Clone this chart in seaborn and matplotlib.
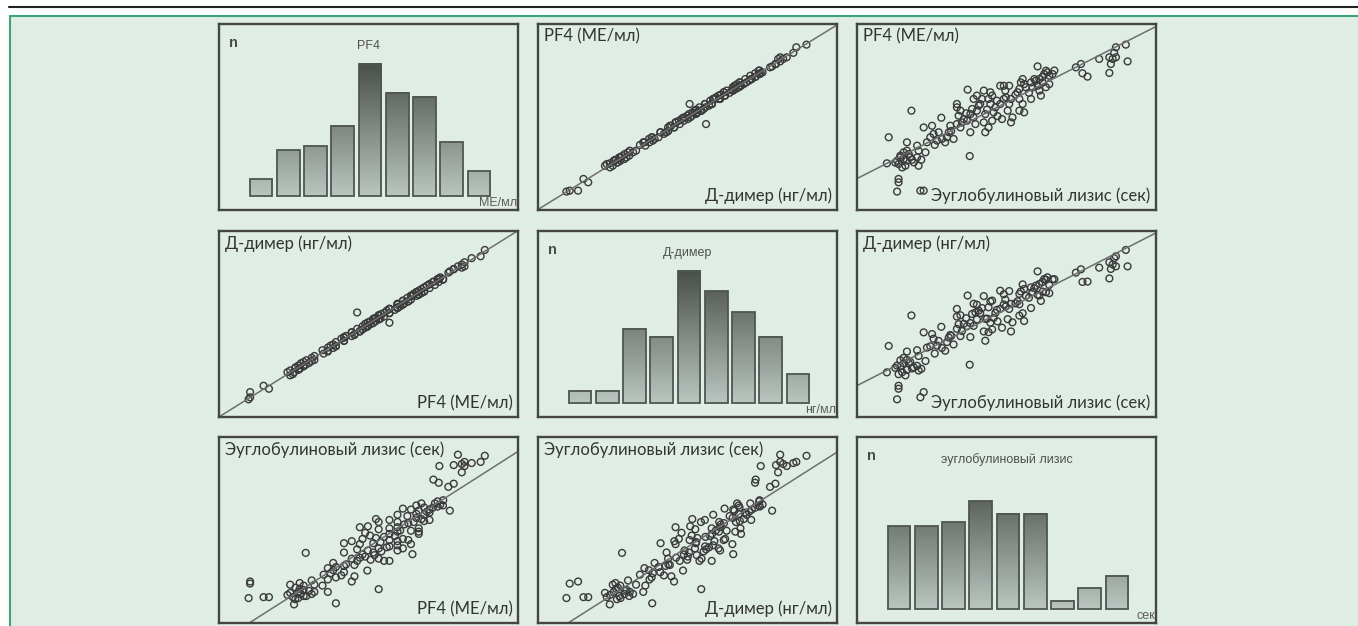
import numpy as np
import pandas as pd
import seaborn as sns
import matplotlib.pyplot as plt
from matplotlib.patches import Rectangle
from matplotlib.lines import Line2D
from matplotlib.colors import LinearSegmentedColormap

# histogram bar heights (patients per bin), 9 bins each
pf4_counts = [4, 11, 12, 17, 32, 25, 24, 13, 6]
ddimer_counts = [3, 3, 18, 16, 32, 27, 22, 16, 7]
eug_counts = [20, 20, 21, 26, 23, 23, 2, 5, 8]

# per-patient values, each scaled to 0-100 of its own axis range
eug = [10.6, 18.2, 10.0, 13.9, 13.9, 13.4, 21.2, 22.3, 37.7, 37.0, 28.2,
       13.4, 14.5, 15.6, 16.7, 13.9, 15.1, 16.2, 17.8, 17.3, 14.5, 15.6, 16.7, 18.4, 12.8,
       16.7, 20.1, 20.6, 20.1, 20.6, 22.9, 23.4, 24.5, 25.6, 25.1, 22.3,
       27.3, 26.8, 28.4, 30.1, 29.5, 30.7, 32.3, 31.2, 33.4, 34.6,
       33.4, 34.6, 34.0, 35.7, 35.1, 36.8, 33.4, 37.9, 38.5, 39.0, 37.9, 39.6,
       40.1, 40.7, 41.8, 42.9, 42.4, 39.0, 40.1, 42.9, 44.0, 45.2, 45.7, 44.6,
       44.0, 45.2, 44.6, 46.3, 46.8, 47.9, 48.5, 49.1, 49.6, 47.9, 49.1, 42.4, 41.2,
       50.9, 49.8, 50.9, 51.5, 50.4, 52.0, 51.5, 54.3, 54.8, 55.4, 55.9, 53.7,
       54.3, 55.4, 54.3, 55.9, 56.5, 58.2, 58.7, 59.3, 59.8, 61.0, 60.4, 61.0,
       62.1, 62.6, 63.2, 63.7, 64.3, 65.4, 63.2, 64.3, 61.5, 58.2, 60.4,
       73.2, 74.9, 75.4, 77.1, 81.0, 84.4, 85.5, 86.6, 89.9, 84.9, 86.6, 84.4, 90.5,
       19.0, 21.5, 26.0, 31.5, 36.5, 43.5, 47.0, 53.0, 57.5, 62.0, 66.0, 86.0]
pf4 = [39.1, 53.4, 25.1, 16.7, 14.9, 9.9, 10.4, 10.4, 29.0, 64.7, 49.6,
       26.5, 28.3, 27.4, 26.5, 24.7, 22.9, 23.8, 28.3, 30.1, 29.2, 31.0, 31.9, 27.0, 25.5,
       36.4, 34.6, 31.9, 28.3, 23.8, 31.0, 36.4, 39.1, 40.9, 45.3, 44.4,
       41.8, 37.3, 38.2, 39.1, 36.4, 41.8, 38.2, 45.3, 46.2, 44.4,
       55.2, 53.4, 50.7, 48.9, 47.1, 48.0, 57.0, 51.6, 54.3, 49.8, 41.8, 46.2,
       53.4, 56.1, 59.7, 51.6, 47.1, 59.7, 61.5, 41.8, 44.4, 48.0, 52.5, 57.0,
       59.7, 61.5, 63.3, 55.2, 58.8, 57.0, 48.9, 59.7, 64.2, 66.8, 66.8, 64.2, 57.0,
       66.8, 60.6, 57.0, 59.7, 53.4, 49.8, 47.1, 65.1, 68.6, 70.4, 67.7, 63.3,
       59.7, 57.0, 53.4, 52.5, 66.0, 68.6, 66.0, 70.4, 69.5, 70.4, 66.8, 64.2,
       68.6, 73.1, 74.9, 74.0, 72.2, 73.1, 66.0, 67.7, 61.5, 59.7, 77.2,
       76.7, 78.5, 73.5, 71.7, 81.2, 82.1, 81.2, 87.5, 88.9, 78.5, 82.1, 73.7, 79.9,
       25.6, 27.0, 35.0, 42.5, 52.0, 54.0, 50.5, 62.0, 63.0, 71.5, 75.0, 84.5]
ddimer = [38.2, 54.6, 24.0, 15.2, 16.8, 9.5, 10.6, 13.4, 28.1, 65.3, 48.5,
          27.6, 27.2, 28.9, 25.3, 23.0, 24.1, 22.4, 29.6, 29.0, 30.5, 31.8, 30.7, 26.1, 26.4,
          35.2, 35.9, 32.8, 27.5, 25.0, 30.1, 37.3, 38.0, 42.1, 44.6, 45.5,
          40.9, 38.4, 37.1, 40.3, 35.6, 42.7, 39.0, 44.1, 47.4, 43.5,
          54.0, 54.7, 49.9, 50.1, 46.2, 48.8, 58.1, 50.5, 55.4, 49.0, 43.0, 56.2,
          52.5, 57.2, 58.6, 52.8, 46.0, 60.9, 60.4, 41.0, 45.6, 47.1, 53.3, 50.7,
          59.0, 62.6, 62.1, 56.0, 57.6, 58.2, 48.0, 60.5, 63.1, 67.9, 66.0, 65.0, 55.9,
          67.7, 59.5, 58.1, 60.8, 52.6, 50.9, 46.0, 66.2, 67.5, 71.3, 68.8, 62.2,
          60.6, 55.8, 54.5, 51.6, 65.1, 69.7, 67.2, 69.3, 70.6, 71.5, 65.7, 65.3,
          67.4, 74.2, 73.8, 75.1, 71.0, 74.0, 67.1, 66.6, 62.4, 58.6, 78.3,
          77.6, 79.4, 72.6, 72.8, 80.3, 83.2, 82.0, 86.4, 89.8, 79.6, 81.0, 74.5, 81.0,
          26.7, 25.9, 34.1, 43.6, 53.1, 52.9, 51.4, 61.1, 64.1, 72.6, 74.1, 85.4]

labels = {"pf4": "PF4 (МЕ/мл)", "ddimer": "Д-димер (нг/мл)",
          "eug": "Эуглобулиновый лизис (сек)"}
hist_titles = {"pf4": "PF4", "ddimer": "Д-димер", "eug": "эуглобулиновый лизис"}
hist_units = {"pf4": "МЕ/мл", "ddimer": "нг/мл", "eug": "сек"}
hist_counts = {"pf4": pf4_counts, "ddimer": ddimer_counts, "eug": eug_counts}
order = ["pf4", "ddimer", "eug"]

df = pd.DataFrame({"pf4": pf4, "ddimer": ddimer, "eug": eug})

sns.set_theme(style="white")
plt.rcParams["font.family"] = ["Lato", "DejaVu Sans"]

BG = "#e0ede5"
W, H = 1358, 626
fig = plt.figure(figsize=(W / 100, H / 100), dpi=100, facecolor="white")

# page decoration: rule on top, green framed box
fig.add_artist(Line2D([9 / W, 1], [1 - 7 / H, 1 - 7 / H], color="#222222", lw=1.5))
fig.add_artist(Rectangle((10 / W, -0.01), 1.0, 1 - 16 / H + 0.01, facecolor=BG,
                         edgecolor="#3aa57a", lw=1.5, zorder=0))

col_x = [219, 538, 857]
row_y = [24, 231, 437]
pw, ph = 299, 186

cmap = LinearSegmentedColormap.from_list("bars", ["#bac5bf", "#495049"])
vmax_count = 32

for r, yv in enumerate(order):
    for c, xv in enumerate(order):
        ax = fig.add_axes([col_x[c] / W, 1 - (row_y[r] + ph) / H, pw / W, ph / H])
        ax.set_facecolor(BG)
        if r == c:
            counts = hist_counts[xv]
            sns.barplot(x=list(range(len(counts))), y=counts, ax=ax, width=0.83,
                        color="#888888", native_scale=True)
            for p in list(ax.patches):
                x0, w, h = p.get_x(), p.get_width(), p.get_height()
                grad = np.linspace(0, h / vmax_count, 64).reshape(-1, 1)
                ax.imshow(grad, extent=[x0, x0 + w, 0, h], origin="lower",
                          aspect="auto", cmap=cmap, vmin=0, vmax=1, zorder=2)
                p.set_facecolor("none")
                p.set_edgecolor("#4f5552")
                p.set_linewidth(1.3)
                p.set_zorder(3)
            ax.set_xlim(-1.546, 9.436)
            ax.set_ylim(-3.4, 41.6)
            ax.text(0.035, 0.9, "n", transform=ax.transAxes, fontsize=10.5,
                    fontweight="bold", color="#4a4a4a", family="Liberation Sans",
                    va="center")
            ax.text(0.5, 0.88, hist_titles[xv], transform=ax.transAxes, fontsize=9,
                    color="#4f4f4f", family="Liberation Sans", ha="center", va="center")
            ax.text(0.997, 0.005, hist_units[xv], transform=ax.transAxes, fontsize=9,
                    color="#5c5c5c", family="Liberation Sans", ha="right", va="bottom")
        else:
            ax.set_xlim(0, 100)
            ax.set_ylim(0, 100)
            sns.regplot(data=df, x=xv, y=yv, ax=ax, scatter=False, ci=None,
                        truncate=False, line_kws={"color": "#6e6e6e", "lw": 1.1})
            sns.scatterplot(data=df, x=xv, y=yv, ax=ax, marker="o", s=24,
                            facecolor="none", edgecolor="#3a3a3a", linewidth=1.0)
            ax.set_xlim(0, 100)
            ax.set_ylim(0, 100)
            ax.text(0.02, 0.975, labels[yv], transform=ax.transAxes, fontsize=12,
                    color="#333333", ha="left", va="top")
            ax.text(0.982, 0.03, labels[xv], transform=ax.transAxes, fontsize=12,
                    color="#333333", ha="right", va="bottom")
        ax.set_xlabel("")
        ax.set_ylabel("")
        ax.set_xticks([])
        ax.set_yticks([])
        for s in ax.spines.values():
            s.set_visible(True)
            s.set_color("#454545")
            s.set_linewidth(1.7)

fig.savefig("out.png", dpi=100, facecolor="white")
